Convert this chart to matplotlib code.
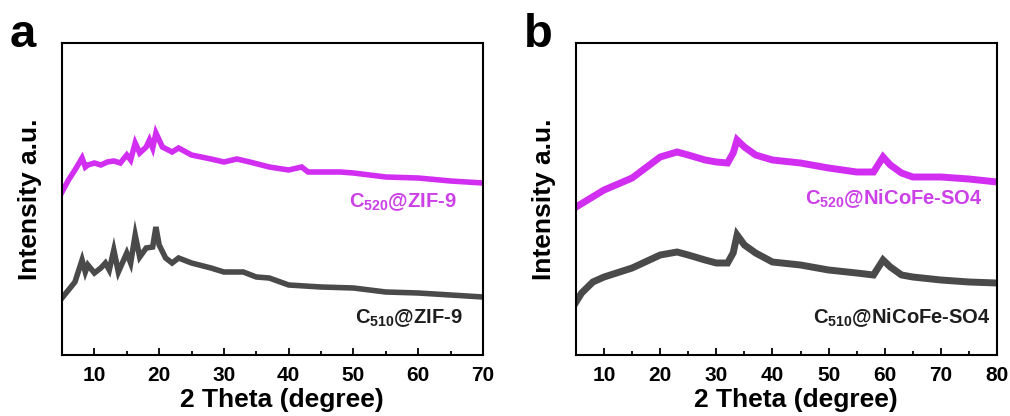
import matplotlib
matplotlib.use("Agg")
import matplotlib.pyplot as plt
from matplotlib.ticker import MultipleLocator

plt.rcParams['font.family'] = ['Liberation Sans', 'DejaVu Sans']
plt.rcParams['font.weight'] = 'bold'
plt.rcParams['mathtext.default'] = 'regular'

# ---- Panel a data (2 theta in degrees, intensity in arbitrary units) ----
a_top_x = [5, 6, 7, 8.1, 8.6, 9, 10, 11, 12, 13, 14, 15, 15.6, 16.3, 17, 18, 18.5, 19, 19.5,
           20.5, 22, 23, 25, 28, 30, 32, 34, 37, 40, 42, 43, 48, 50, 55, 60, 65, 70]
a_top_y = [163, 175, 185, 197, 188, 190, 192, 190, 193, 194, 192, 200, 195, 212, 202, 208, 215, 207, 222,
           208, 203, 207, 200, 196, 193, 196, 193, 188, 185, 188, 183, 183, 182, 178, 177, 174, 172]

a_bot_x = [5, 6, 7, 8.1, 8.6, 9, 10, 11, 11.7, 12.3, 13, 13.7, 15, 15.6, 16.3, 17, 18, 19, 19.5,
           20, 21, 22, 23, 25, 28, 30, 33, 35, 37, 40, 45, 50, 55, 60, 65, 70]
a_bot_y = [57, 65, 73, 95, 83, 90, 82, 87, 92, 85, 105, 83, 102, 92, 120, 98, 107, 108, 128,
           110, 97, 92, 97, 92, 87, 83, 83, 78, 77, 70, 68, 67, 63, 62, 60, 58]

# ---- Panel b data ----
b_top_x = [5, 10, 15, 20, 23, 25, 28, 30, 32, 33, 33.7, 35, 37, 40, 45, 50, 55, 58, 59.7, 61,
           63, 65, 70, 75, 80]
b_top_y = [148, 165, 177, 198, 203, 200, 195, 193, 192, 202, 215, 208, 200, 195, 192, 187, 183, 183, 198, 190,
           182, 178, 178, 176, 173]

b_bot_x = [5, 6, 8, 10, 15, 20, 23, 25, 28, 30, 32, 33, 33.7, 35, 37, 40, 45, 50, 55, 58, 59.7, 61,
           63, 65, 70, 75, 80]
b_bot_y = [53, 62, 73, 78, 87, 100, 103, 100, 95, 92, 92, 102, 120, 110, 102, 93, 90, 85, 82, 80, 95, 88,
           80, 78, 75, 73, 72]

labels_a = [r'C$_{520}$@ZIF-9', r'C$_{510}$@ZIF-9']
labels_b = [r'C$_{520}$@NiCoFe-SO4', r'C$_{510}$@NiCoFe-SO4']
panel_letters = ['a', 'b']
xlims = [(5, 70), (5, 80)]

MAGENTA = '#D22EF2'
MAGENTA_TXT = '#CC40E8'
GRAY = '#4A4A4A'
TXT_DARK = '#1E1E1E'

fig = plt.figure(figsize=(10.10, 4.16), dpi=100)
ax_a = fig.add_axes([62/1010, 61/416, 421/1010, 312/416])
ax_b = fig.add_axes([576/1010, 61/416, 421/1010, 312/416])

series = [
    (ax_a, a_top_x, a_top_y, a_bot_x, a_bot_y, labels_a, (66.0, 153), (66.9, 37), 4.0),
    (ax_b, b_top_x, b_top_y, b_bot_x, b_bot_y, labels_b, (77.5, 156), (78.8, 37), 5.0),
]

for i, (ax, tx, ty, bx, by, labs, pos_top, pos_bot, lw) in enumerate(series):
    ax.plot(tx, ty, color=MAGENTA, lw=lw, solid_joinstyle='miter')
    ax.plot(bx, by, color=GRAY, lw=lw, solid_joinstyle='miter')
    ax.set_xlim(*xlims[i])
    ax.set_ylim(0, 312)
    ax.xaxis.set_major_locator(MultipleLocator(10))
    ax.xaxis.set_minor_locator(MultipleLocator(5))
    ax.tick_params(axis='x', which='major', direction='in', length=5, width=1.3, pad=8, labelsize=15)
    ax.tick_params(axis='x', which='minor', direction='in', length=3, width=1.3)
    ax.set_yticks([])
    for lbl in ax.get_xticklabels():
        lbl.set_fontweight('bold')
    for sp in ax.spines.values():
        sp.set_linewidth(1.5)
    ax.set_xlabel('2 Theta (degree)', fontsize=19, fontweight='bold')
    ax.xaxis.set_label_coords(0.523, -0.105)
    ax.set_ylabel('Intensity a.u.', fontsize=19, fontweight='bold')
    ax.yaxis.set_label_coords(-0.047, 0.5)
    ax.text(pos_top[0], pos_top[1], labs[0], color=MAGENTA_TXT, fontsize=14.5, fontweight='bold',
            ha='right', va='center')
    ax.text(pos_bot[0], pos_bot[1], labs[1], color=TXT_DARK, fontsize=14.5, fontweight='bold',
            ha='right', va='center')

fig.text(10/1010, 1 - 47/416, panel_letters[0], fontsize=34, fontweight='bold', ha='left', va='baseline')
fig.text(524/1010, 1 - 47/416, panel_letters[1], fontsize=34, fontweight='bold', ha='left', va='baseline')

fig.savefig('out.png', dpi=100)
